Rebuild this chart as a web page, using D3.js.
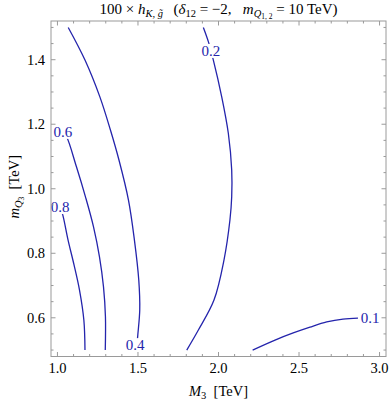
<!DOCTYPE html>
<html>
<head>
<meta charset="utf-8">
<script src="https://cdn.jsdelivr.net/npm/d3@7"></script>
<style>
  body { margin: 0; background: #fff; }
  svg text { font-family: "Liberation Serif", "Times New Roman", "DejaVu Serif", serif; }
</style>
</head>
<body>
<svg id="chart" width="390" height="403" font-family="Liberation Serif, DejaVu Serif, serif"></svg>
<script>
// contour lines of 100 x h (M3 [TeV], mQ3 [TeV])
const contour01 = [[2.212, 0.500], [2.351, 0.531], [2.464, 0.553], [2.568, 0.571], [2.672, 0.587], [2.773, 0.596], [2.866, 0.599]];
const contour02 = [[1.906, 1.500], [1.937, 1.456], [1.968, 1.399], [2.020, 1.285], [2.061, 1.172], [2.082, 1.058], [2.082, 0.975],
    [2.071, 0.903], [2.034, 0.779], [1.972, 0.655], [1.875, 0.562], [1.803, 0.500]];
const contour04 = [[1.067, 1.500], [1.171, 1.399], [1.264, 1.284], [1.329, 1.182], [1.382, 1.089], [1.441, 0.965], [1.478, 0.841],
    [1.505, 0.717], [1.511, 0.624], [1.499, 0.547], [1.491, 0.500]];
const contour06 = [[1.033, 1.177], [1.057, 1.161], [1.118, 1.068], [1.174, 0.975], [1.224, 0.882], [1.261, 0.789], [1.286, 0.696],
    [1.298, 0.603], [1.297, 0.500]];
const contour08 = [[1.016, 0.944], [1.033, 0.919], [1.066, 0.841], [1.103, 0.764], [1.137, 0.686], [1.164, 0.593], [1.171, 0.500]];

// where the level labels sit: [text, M3, mQ3]
const contourLabels = [["0.1", 2.941, 0.599], ["0.2", 1.952, 1.428], ["0.4", 1.482, 0.516], ["0.6", 1.033, 1.177], ["0.8", 1.016, 0.944]];

const xTicks = [1.0, 1.5, 2.0, 2.5, 3.0];
const yTicks = [0.6, 0.8, 1.0, 1.2, 1.4];

const
    svg = d3.select("#chart"),
    frame = { left: 51, right: 386, top: 21, bottom: 356.5 },
    lineColor = "#2424ac",
    frameColor = "#9a9a9a";

const
    x = d3.scaleLinear().domain([0.96, 3.04]).range([frame.left, frame.right]),
    y = d3.scaleLinear().domain([0.48, 1.52]).range([frame.bottom, frame.top]),
    fmt = d3.format(".1f");

svg.append("rect").attr("width", 390).attr("height", 403).attr("fill", "#fff");

// contours
const line = d3.line()
    .x(d => x(d[0]))
    .y(d => y(d[1]))
    .curve(d3.curveCatmullRom.alpha(0.5));

const lines = svg.append("g").attr("class", "contours");
[contour01, contour02, contour04, contour06, contour08].forEach(c => {
    lines.append("path")
        .attr("d", line(c))
        .attr("fill", "none")
        .attr("stroke", lineColor)
        .attr("stroke-width", 1.3);
});

// labels break the line under them
const labels = svg.append("g").attr("class", "labels");
contourLabels.forEach(([t, lx, ly]) => {
    const g = labels.append("g");
    const txt = g.append("text")
        .attr("x", x(lx))
        .attr("y", y(ly))
        .attr("dy", "0.35em")
        .attr("text-anchor", "middle")
        .attr("font-size", 15)
        .attr("fill", lineColor)
        .text(t);
    const b = txt.node().getBBox();
    g.insert("rect", "text")
        .attr("x", b.x - 1)
        .attr("y", b.y + 1)
        .attr("width", b.width + 2)
        .attr("height", b.height - 2)
        .attr("fill", "#fff");
});

// frame with inward ticks on all four sides
const axes = svg.append("g").attr("class", "frame").attr("stroke", frameColor).attr("stroke-width", 1);
axes.append("rect")
    .attr("x", frame.left)
    .attr("y", frame.top)
    .attr("width", frame.right - frame.left)
    .attr("height", frame.bottom - frame.top)
    .attr("fill", "none");

const
    xMinor = d3.range(1.0, 3.001, 0.1).filter(v => !xTicks.some(t => Math.abs(t - v) < 1e-6)),
    yMinor = d3.range(0.5, 1.501, 0.05).filter(v => !yTicks.some(t => Math.abs(t - v) < 1e-6));

function xTick(v, len) {
    axes.append("line").attr("x1", x(v)).attr("x2", x(v)).attr("y1", frame.bottom).attr("y2", frame.bottom - len);
    axes.append("line").attr("x1", x(v)).attr("x2", x(v)).attr("y1", frame.top).attr("y2", frame.top + len);
}
function yTick(v, len) {
    axes.append("line").attr("y1", y(v)).attr("y2", y(v)).attr("x1", frame.left).attr("x2", frame.left + len);
    axes.append("line").attr("y1", y(v)).attr("y2", y(v)).attr("x1", frame.right).attr("x2", frame.right - len);
}
xTicks.forEach(v => xTick(v, 4.5));
xMinor.forEach(v => xTick(v, 2.5));
yTicks.forEach(v => yTick(v, 4.5));
yMinor.forEach(v => yTick(v, 2.5));

// tick labels
svg.append("g").selectAll("text").data(xTicks).join("text")
    .attr("x", d => x(d))
    .attr("y", 373)
    .attr("text-anchor", "middle")
    .attr("font-size", 14.5)
    .text(fmt);

svg.append("g").selectAll("text").data(yTicks).join("text")
    .attr("x", 45)
    .attr("y", d => y(d))
    .attr("dy", "0.35em")
    .attr("text-anchor", "end")
    .attr("font-size", 14.5)
    .text(fmt);

// axis titles
const xt = svg.append("text")
    .attr("x", (frame.left + frame.right) / 2)
    .attr("y", 396)
    .attr("text-anchor", "middle")
    .attr("font-size", 14.5);
xt.append("tspan").attr("font-style", "italic").text("M");
xt.append("tspan").attr("font-size", 10.5).attr("dy", 3).text("3");
xt.append("tspan").attr("dy", -3).text("\u2002[TeV]");

const yt = svg.append("text")
    .attr("transform", `translate(19,${(frame.top + frame.bottom) / 2 - 2}) rotate(-90)`)
    .attr("text-anchor", "middle")
    .attr("font-size", 14.5);
yt.append("tspan").attr("font-style", "italic").text("m");
yt.append("tspan").attr("font-style", "italic").attr("font-size", 10.5).attr("dy", 3).text("Q");
yt.append("tspan").attr("font-size", 7.5).attr("dy", 2).text("3");
yt.append("tspan").attr("dy", -5).text("\u2002[TeV]");

// title
const title = svg.append("text")
    .attr("x", (frame.left + frame.right) / 2)
    .attr("y", 14)
    .attr("text-anchor", "middle")
    .attr("font-size", 15);
title.append("tspan").text("100 \u00d7 ");
title.append("tspan").attr("font-style", "italic").text("h");
title.append("tspan").attr("font-style", "italic").attr("font-size", 10.5).attr("dy", 3).text("K, g\u0303");
title.append("tspan").attr("dy", -3).text("\u2002\u2009(");
title.append("tspan").attr("font-style", "italic").text("\u03b4");
title.append("tspan").attr("font-size", 10.5).attr("dy", 3).text("12");
title.append("tspan").attr("dy", -3).text(" = \u22122,\u2002 ");
title.append("tspan").attr("font-style", "italic").text("m");
title.append("tspan").attr("font-style", "italic").attr("font-size", 10.5).attr("dy", 3).text("Q");
title.append("tspan").attr("font-size", 7.5).attr("dy", 2).text("1, 2");
title.append("tspan").attr("dy", -5).text(" = 10 TeV)");
</script>
</body>
</html>
